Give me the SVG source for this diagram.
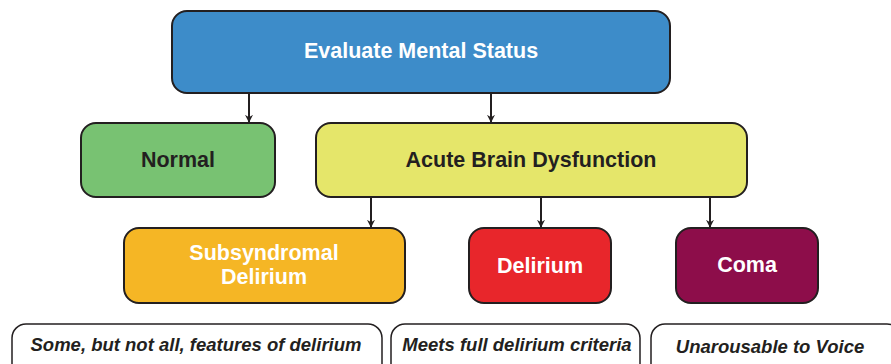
<svg xmlns="http://www.w3.org/2000/svg" width="891" height="364" viewBox="0 0 891 364">
  <defs>
    <marker id="arrow" viewBox="0 0 10 10" refX="9" refY="5" markerWidth="8" markerHeight="9" markerUnits="userSpaceOnUse" orient="auto">
      <path d="M0,0 L10,5 L0,10 L3,5 Z" fill="#231f20"/>
    </marker>
    <style>
      .box { stroke: #231f20; stroke-width: 2; }
      .label { font-family: "Liberation Sans", Arial, sans-serif; font-weight: bold; text-anchor: middle; font-size: 21.5px; }
      .light { fill: #ffffff; }
      .dark { fill: #231f20; }
      .note { font-family: "Liberation Sans", Arial, sans-serif; font-weight: bold; font-style: italic; font-size: 18.5px; text-anchor: middle; fill: #231f20; }
      .notebox { fill: #ffffff; stroke: #231f20; stroke-width: 1.5; }
      .conn { stroke: #231f20; stroke-width: 2; fill: none; marker-end: url(#arrow); }
    </style>
  </defs>
  <rect width="891" height="364" fill="#ffffff"/>

  <g id="connectors">
    <line class="conn" x1="249" y1="93" x2="249" y2="122"/>
    <line class="conn" x1="491" y1="93" x2="491" y2="122"/>
    <line class="conn" x1="371" y1="197" x2="371" y2="227"/>
    <line class="conn" x1="541" y1="197" x2="541" y2="227"/>
    <line class="conn" x1="710" y1="197" x2="710" y2="227"/>
  </g>

  <g id="evaluate">
    <rect class="box" x="172" y="11" width="498" height="82" rx="15" fill="#3d8cc9"/>
    <text class="label light" x="421" y="58">Evaluate Mental Status</text>
  </g>

  <g id="normal">
    <rect class="box" x="81" y="123" width="194" height="74" rx="15" fill="#78c272"/>
    <text class="label dark" x="178" y="167" font-size="21.8">Normal</text>
  </g>

  <g id="acute">
    <rect class="box" x="316" y="123" width="431" height="74" rx="15" fill="#e5e66a"/>
    <text class="label dark" x="531" y="167">Acute Brain Dysfunction</text>
  </g>

  <g id="subsyndromal">
    <rect class="box" x="124" y="228" width="281" height="75" rx="15" fill="#f5b625"/>
    <text class="label light" x="264" y="260">Subsyndromal</text>
    <text class="label light" x="264" y="284">Delirium</text>
  </g>

  <g id="delirium">
    <rect class="box" x="469" y="228" width="142" height="75" rx="15" fill="#e8262b"/>
    <text class="label light" x="540" y="273">Delirium</text>
  </g>

  <g id="coma">
    <rect class="box" x="676" y="228" width="142" height="75" rx="15" fill="#8d0d4a"/>
    <text class="label light" x="747" y="272">Coma</text>
  </g>

  <g id="note-subsyndromal">
    <rect class="notebox" x="12" y="324" width="370" height="60" rx="14"/>
    <text class="note" x="196" y="351">Some, but not all, features of delirium</text>
  </g>

  <g id="note-delirium">
    <rect class="notebox" x="391" y="324" width="249" height="60" rx="14"/>
    <text class="note" x="517" y="351">Meets full delirium criteria</text>
  </g>

  <g id="note-coma">
    <rect class="notebox" x="651" y="324" width="250" height="60" rx="14"/>
    <text class="note" x="770" y="353" font-size="18">Unarousable to Voice</text>
  </g>
</svg>
